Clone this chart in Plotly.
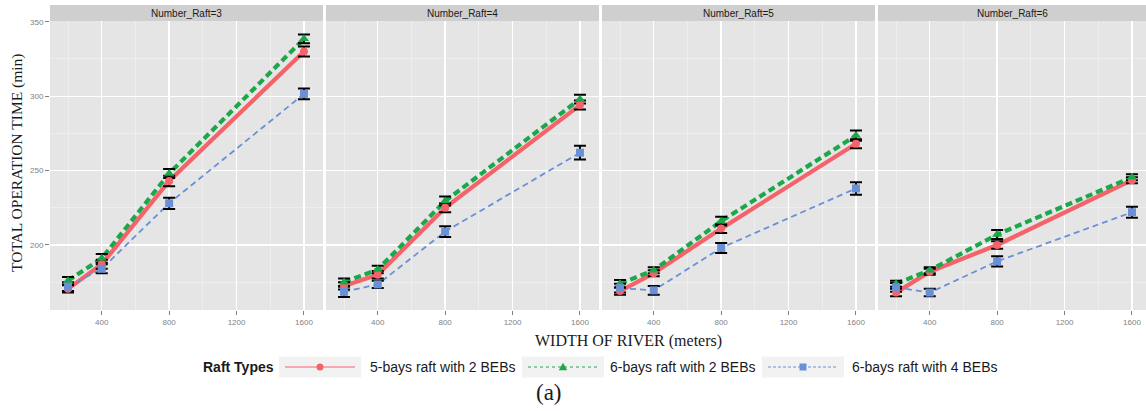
import plotly.graph_objects as go

# ---------------- data ----------------
widths = [200, 400, 800, 1600]
rafts = [3, 4, 5, 6]
panel_titles = ["Number_Raft=3", "Number_Raft=4", "Number_Raft=5", "Number_Raft=6"]
series_names = ["5-bays raft with 2 BEBs", "6-bays raft with 2 BEBs", "6-bays raft with 4 BEBs"]

# mean total operation time (min), one list per raft count (3,4,5,6)
time_5bays_2beb = [
    [170.5, 187.0, 243.0, 330.0],
    [172.5, 180.0, 225.0, 294.0],
    [169.0, 181.0, 211.0, 268.0],
    [168.0, 182.0, 200.0, 243.5],
]
time_6bays_2beb = [
    [176.0, 191.0, 248.0, 338.5],
    [175.0, 183.5, 229.5, 298.0],
    [174.0, 183.0, 216.0, 273.5],
    [174.0, 183.0, 207.0, 245.5],
]
time_6bays_4beb = [
    [172.0, 184.0, 228.0, 301.5],
    [168.5, 173.5, 209.0, 262.0],
    [171.0, 169.5, 198.0, 238.0],
    [171.5, 168.0, 189.0, 222.0],
]
# error-bar half widths
err_5bays_2beb = [
    [2.5, 3.0, 3.5, 3.4],
    [2.5, 2.5, 3.0, 3.0],
    [2.5, 2.0, 3.0, 3.0],
    [2.5, 2.0, 2.5, 2.0],
]
err_6bays_2beb = [
    [2.5, 3.0, 3.0, 3.0],
    [2.5, 2.5, 3.0, 3.0],
    [2.5, 2.0, 3.0, 3.5],
    [2.0, 2.0, 3.0, 2.0],
]
err_6bays_4beb = [
    [3.0, 3.0, 3.8, 3.6],
    [3.5, 2.5, 3.6, 4.6],
    [3.0, 2.9, 3.4, 4.2],
    [3.0, 2.5, 3.5, 3.7],
]

x_tickvals = [400, 800, 1200, 1600]
x_minorvals = [200, 600, 1000, 1400]
y_tickvals = [200, 250, 300, 350]
y_minorvals = [175, 225, 275, 325]

# ---------------- styles ----------------
W, H = 1146, 411
L, T, B = 50, 21, 101
PW = W - L
PH = H - T - B
BOTTOM = H - B

def px2x(px):
    return (px - L) / PW

def py2y(py):
    return (BOTTOM - py) / PH

panel_px = [(50, 323), (326, 599), (602, 875), (878, 1146)]
x_min = 93.0
px_per_unit = 273.0 / 1620.0
y_range = [156.3, 350.5]

colors = ["#F5636A", "#1CA84A", "#6990D6"]
line_widths = [4.2, 4.2, 1.8]
dashes = ["solid", "7px,4px", "6px,4px"]
symbols = ["circle", "triangle-up", "square"]
msizes = [8, 9, 8]
all_series = [time_5bays_2beb, time_6bays_2beb, time_6bays_4beb]
all_errs = [err_5bays_2beb, err_6bays_2beb, err_6bays_4beb]

SANS = "Liberation Sans, Arial, sans-serif"
SERIF = "Liberation Serif, Times New Roman, serif"

fig = go.Figure()

for p in range(4):
    xa = "x" if p == 0 else f"x{p+1}"
    ya = "y" if p == 0 else f"y{p+1}"
    # lines
    for s in range(3):
        fig.add_trace(go.Scatter(
            x=widths, y=all_series[s][p], mode="lines",
            line=dict(color=colors[s], width=line_widths[s], dash=dashes[s]),
            xaxis=xa, yaxis=ya, showlegend=False, hoverinfo="skip"))
    # error bars
    for s in range(3):
        fig.add_trace(go.Scatter(
            x=widths, y=all_series[s][p], mode="markers",
            marker=dict(color="rgba(0,0,0,0)", size=1),
            error_y=dict(type="data", array=all_errs[s][p], color="black",
                         thickness=2, width=6),
            xaxis=xa, yaxis=ya, showlegend=False, hoverinfo="skip"))
    # points
    for s in range(3):
        fig.add_trace(go.Scatter(
            x=widths, y=all_series[s][p], mode="markers",
            marker=dict(color=colors[s], symbol=symbols[s], size=msizes[s]),
            name=series_names[s],
            xaxis=xa, yaxis=ya, showlegend=False))

layout = dict(
    width=W, height=H,
    margin=dict(l=L, r=0, t=T, b=B, pad=0, autoexpand=False),
    paper_bgcolor="white",
    plot_bgcolor="#E5E5E5",
    showlegend=False,
    font=dict(family=SANS, color="#7F7F7F", size=8),
)

shapes = []
annotations = []
for p in range(4):
    a, b = panel_px[p]
    d0, d1 = px2x(a), px2x(b)
    xk = "xaxis" if p == 0 else f"xaxis{p+1}"
    yk = "yaxis" if p == 0 else f"yaxis{p+1}"
    x_max = x_min + (b - a) / px_per_unit
    layout[xk] = dict(
        domain=[d0, d1], range=[x_min, x_max], anchor="y" if p == 0 else f"y{p+1}",
        tickvals=x_tickvals, ticktext=[str(v) for v in x_tickvals],
        showgrid=True, gridcolor="white", gridwidth=1.3,
        minor=dict(tickvals=x_minorvals, showgrid=True, gridcolor="#F2F2F2", gridwidth=0.7, ticks=""),
        ticks="outside", ticklen=4, tickcolor="#7F7F7F", tickwidth=1,
        tickfont=dict(size=8, color="#7F7F7F", family=SANS),
        zeroline=False, showline=False, fixedrange=True, automargin=False,
    )
    layout[yk] = dict(
        domain=[0, 1], range=y_range, anchor="x" if p == 0 else f"x{p+1}",
        tickvals=y_tickvals, ticktext=[str(v) for v in y_tickvals],
        showgrid=True, gridcolor="white", gridwidth=1.3,
        minor=dict(tickvals=y_minorvals, showgrid=True, gridcolor="#F2F2F2", gridwidth=0.7, ticks=""),
        ticks="outside" if p == 0 else "", ticklen=4, tickcolor="#7F7F7F", tickwidth=1,
        showticklabels=(p == 0),
        tickfont=dict(size=8, color="#7F7F7F", family=SANS),
        zeroline=False, showline=False, fixedrange=True, automargin=False,
    )
    # strip
    shapes.append(dict(type="rect", xref="paper", yref="paper",
                       x0=d0, x1=d1, y0=py2y(T), y1=py2y(5),
                       fillcolor="#CFCFCF", line=dict(width=0), layer="below"))
    annotations.append(dict(text=panel_titles[p], xref="paper", yref="paper",
                            x=(d0 + d1) / 2, y=py2y(13), showarrow=False,
                            xanchor="center", yanchor="middle",
                            font=dict(family=SANS, size=10, color="#1A1A1A")))

# axis titles
annotations.append(dict(text="TOTAL OPERATION TIME (min)", xref="paper", yref="paper",
                        x=px2x(16.5), y=py2y(163.5), showarrow=False, textangle=-90,
                        xanchor="center", yanchor="middle",
                        font=dict(family=SERIF, size=15.5, color="#1A1A1A")))
annotations.append(dict(text="WIDTH OF RIVER (meters)", xref="paper", yref="paper",
                        x=px2x(628), y=py2y(340.5), showarrow=False,
                        xanchor="center", yanchor="middle",
                        font=dict(family=SERIF, size=16, color="#1A1A1A")))
annotations.append(dict(text="(a)", xref="paper", yref="paper",
                        x=px2x(549), y=py2y(392), showarrow=False,
                        xanchor="center", yanchor="middle",
                        font=dict(family=SERIF, size=23, color="#1A1A1A")))

# manual legend (ggplot style key boxes)
LEG_Y = 367
annotations.append(dict(text="<b>Raft Types</b>", xref="paper", yref="paper",
                        x=px2x(201), y=py2y(LEG_Y), showarrow=False,
                        xanchor="left", yanchor="middle",
                        font=dict(family=SANS, size=14, color="#1A1A1A")))
key_centers = [320, 563, 803]
label_left = [368, 608, 850]
key_dash = ["solid", "dot", "3px,2px"]
for s in range(3):
    cx = key_centers[s]
    shapes.append(dict(type="rect", xref="paper", yref="paper",
                       x0=px2x(cx - 41), x1=px2x(cx + 41),
                       y0=py2y(LEG_Y + 10.5), y1=py2y(LEG_Y - 10.5),
                       fillcolor="#F2F2F2", line=dict(width=0)))
    shapes.append(dict(type="line", xref="paper", yref="paper",
                       x0=px2x(cx - 35), x1=px2x(cx + 35),
                       y0=py2y(LEG_Y), y1=py2y(LEG_Y),
                       line=dict(color=colors[s], width=1.2, dash=key_dash[s])))
    r = 3.5
    if s == 0:
        shapes.append(dict(type="circle", xref="paper", yref="paper",
                           x0=px2x(cx - r), x1=px2x(cx + r),
                           y0=py2y(LEG_Y + r), y1=py2y(LEG_Y - r),
                           fillcolor=colors[s], line=dict(width=0)))
    elif s == 1:
        path = (f"M {px2x(cx - 4.2)} {py2y(LEG_Y + 3.2)} "
                f"L {px2x(cx + 4.2)} {py2y(LEG_Y + 3.2)} "
                f"L {px2x(cx)} {py2y(LEG_Y - 4.2)} Z")
        shapes.append(dict(type="path", xref="paper", yref="paper", path=path,
                           fillcolor=colors[s], line=dict(width=0)))
    else:
        shapes.append(dict(type="rect", xref="paper", yref="paper",
                           x0=px2x(cx - r), x1=px2x(cx + r),
                           y0=py2y(LEG_Y + r), y1=py2y(LEG_Y - r),
                           fillcolor=colors[s], line=dict(width=0)))
    annotations.append(dict(text=series_names[s], xref="paper", yref="paper",
                            x=px2x(label_left[s]), y=py2y(LEG_Y), showarrow=False,
                            xanchor="left", yanchor="middle",
                            font=dict(family=SANS, size=14, color="#1A1A1A")))

layout["shapes"] = shapes
layout["annotations"] = annotations
fig.update_layout(**layout)

# remove the default 8px page margin so the figure sits at the window origin
fig.write_html("out.html",
               config={"displayModeBar": False, "staticPlot": True},
               post_script="document.body.style.margin='0px';document.body.style.overflow='hidden';")
